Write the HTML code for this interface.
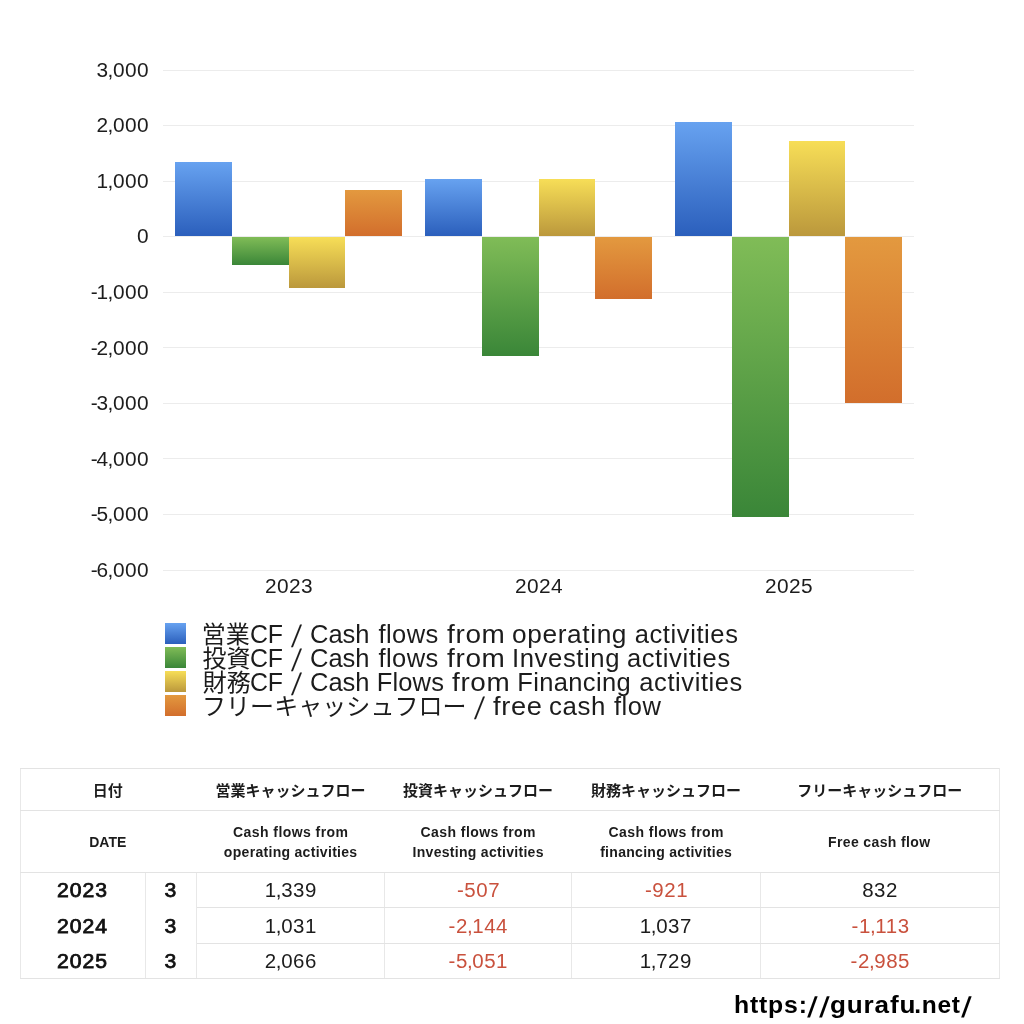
<!DOCTYPE html>
<html lang="ja">
<head>
<meta charset="utf-8">
<title>Cash flow</title>
<style>
html,body{margin:0;padding:0;background:#fff;}
html{width:1024px;height:1024px;overflow:hidden;}
body{width:1024px;height:1024px;position:relative;overflow:hidden;font-family:"Liberation Sans","Noto Sans CJK JP",sans-serif;color:#1c1c1c;}
.grid,.bar,.yl,.xl,.sw,.lt{position:absolute;}
.grid{left:163px;width:751px;height:1px;background:#ececec;}
.bar.b,.sw.b{background:linear-gradient(#67a2f0,#2b5fbc);}
.bar.g,.sw.g{background:linear-gradient(#80bc57,#3a8638);}
.bar.y,.sw.y{background:linear-gradient(#f7de57,#bb983c);}
.bar.o,.sw.o{background:linear-gradient(#e3993f,#d26e2c);}
.yl{left:28px;width:121.05px;text-align:right;font-size:19.5px;line-height:26px;letter-spacing:0.4px;white-space:nowrap;transform:scaleX(1.07);transform-origin:100% 50%;}
.xl{top:572.6px;width:100px;text-align:center;font-size:19.5px;line-height:26px;letter-spacing:0.4px;transform:scaleX(1.07);}
.yl .c,tr.d td .c{margin:0 -0.85px;}
.yl .m{margin-right:-1.5px;}
.sw{left:165px;width:21px;height:21px;}
.lt{left:0;width:1024px;height:30px;font-size:25.5px;line-height:30px;white-space:pre;}
.lt span{display:inline-block;width:0;vertical-align:baseline;line-height:30px;white-space:pre;transform-origin:0 0;}
.lt .j{font-size:24px;font-weight:400;}
.lt .e{font-size:25.5px;}
.lt .s{transform:translateY(3.7px) scaleY(1.22) skewX(-12deg);transform-origin:3.6px 23.8px;}
table{position:absolute;left:20px;top:768px;width:979px;border-collapse:collapse;table-layout:fixed;}
td,th{padding:0;text-align:center;vertical-align:middle;border:1px solid #e3e3e3;border-left-color:#e8e8e8;border-right-color:#e8e8e8;}
tr.h1 th{height:41px;font-size:15px;font-weight:bold;border-left:none;border-right:none;}
tr.h2 th{height:61px;font-size:14px;font-weight:bold;line-height:20px;border-left:none;border-right:none;}
tr.h2 th .l1{letter-spacing:0.44px;margin-left:0.44px;}
tr.h2 th .l2{letter-spacing:0.3px;margin-left:0.3px;}
tr.h1 th:first-child,tr.h2 th:first-child{border-left:1px solid #e8e8e8;}
tr.h1 th:last-child,tr.h2 th:last-child{border-right:1px solid #e8e8e8;}
tr.d td{height:34.4px;font-size:19.5px;}
tr.d td>span{display:inline-block;transform:scaleX(1.05);letter-spacing:0.5px;position:relative;top:0.6px;left:0.25px;}
tr.d td.yr,tr.d td.mo{font-size:19.6px;-webkit-text-stroke:0.75px #111;color:#111;border-top:none;border-bottom:none;}
tr.d td.yr>span,tr.d td.mo>span{transform:scaleX(1.08);letter-spacing:0.9px;top:0;left:0.1px;}
tr.d+tr.d td.yr>span,tr.d+tr.d td.mo>span{top:1px;}
tr.d:last-child td{border-bottom:1px solid #e3e3e3;}
td.n{color:#c9513d;}
.url{position:absolute;left:0;top:990px;width:1024px;height:30px;overflow:hidden;font-size:24.5px;line-height:30px;font-weight:bold;color:#000;white-space:pre;}
.url span{display:inline-block;width:0;line-height:30px;white-space:pre;transform-origin:0 0;}
.url .s{transform:translateY(3.7px) scaleY(1.17) skewX(-13deg);transform-origin:3.45px 23.5px;}
</style>
</head>
<body>
<div class="grid" style="top:70px"></div><div class="grid" style="top:125px"></div><div class="grid" style="top:181px"></div><div class="grid" style="top:236px"></div><div class="grid" style="top:292px"></div><div class="grid" style="top:347px"></div><div class="grid" style="top:403px"></div><div class="grid" style="top:458px"></div><div class="grid" style="top:514px"></div><div class="grid" style="top:570px"></div>
<div class="bar b" style="left:175px;top:162px;width:57px;height:74px"></div><div class="bar g" style="left:232px;top:237px;width:57px;height:28px"></div><div class="bar y" style="left:289px;top:237px;width:56px;height:51px"></div><div class="bar o" style="left:345px;top:190px;width:57px;height:46px"></div><div class="bar b" style="left:425px;top:179px;width:57px;height:57px"></div><div class="bar g" style="left:482px;top:237px;width:57px;height:119px"></div><div class="bar y" style="left:539px;top:179px;width:56px;height:57px"></div><div class="bar o" style="left:595px;top:237px;width:57px;height:62px"></div><div class="bar b" style="left:675px;top:122px;width:57px;height:114px"></div><div class="bar g" style="left:732px;top:237px;width:57px;height:280px"></div><div class="bar y" style="left:789px;top:141px;width:56px;height:95px"></div><div class="bar o" style="left:845px;top:237px;width:57px;height:166px"></div>
<div class="yl" style="top:57px">3<span class="c">,</span>000</div><div class="yl" style="top:112px">2<span class="c">,</span>000</div><div class="yl" style="top:168px">1<span class="c">,</span>000</div><div class="yl" style="top:223px">0</div><div class="yl" style="top:279px"><span class="m">-</span>1<span class="c">,</span>000</div><div class="yl" style="top:335px"><span class="m">-</span>2<span class="c">,</span>000</div><div class="yl" style="top:390px"><span class="m">-</span>3<span class="c">,</span>000</div><div class="yl" style="top:446px"><span class="m">-</span>4<span class="c">,</span>000</div><div class="yl" style="top:501px"><span class="m">-</span>5<span class="c">,</span>000</div><div class="yl" style="top:557px"><span class="m">-</span>6<span class="c">,</span>000</div>
<div class="xl" style="left:238.60px">2023</div><div class="xl" style="left:488.60px">2024</div><div class="xl" style="left:738.60px">2025</div>
<div class="sw b" style="top:623px"></div><div class="lt" style="top:619px"><span class="j" style="margin-left:201.75px">営業</span><span class="e" style="margin-left:48.28px;letter-spacing:-0.30px;transform:scaleX(0.976)">CF </span><span class="e s" style="margin-left:40.97px">/ </span><span class="e" style="margin-left:19.00px">Cash </span><span class="e" style="margin-left:68.50px;letter-spacing:0.44px">flows </span><span class="e" style="margin-left:68.33px;letter-spacing:0.60px;transform:scaleX(1.096)">from </span><span class="e" style="margin-left:65.54px;letter-spacing:0.60px;transform:scaleX(1.030)">operating </span><span class="e" style="margin-left:122.38px;letter-spacing:0.60px">activities</span></div><div class="sw g" style="top:647px"></div><div class="lt" style="top:643px"><span class="j" style="margin-left:202.40px">投資</span><span class="e" style="margin-left:47.63px;letter-spacing:-0.30px;transform:scaleX(0.976)">CF </span><span class="e s" style="margin-left:40.97px">/ </span><span class="e" style="margin-left:19.00px">Cash </span><span class="e" style="margin-left:68.50px;letter-spacing:0.44px">flows </span><span class="e" style="margin-left:68.33px;letter-spacing:0.60px;transform:scaleX(1.096)">from </span><span class="e" style="margin-left:64.91px;letter-spacing:0.60px;transform:scaleX(1.006)">Investing </span><span class="e" style="margin-left:115.26px;letter-spacing:0.60px">activities</span></div><div class="sw y" style="top:671px"></div><div class="lt" style="top:667px"><span class="j" style="margin-left:202.80px">財務</span><span class="e" style="margin-left:47.23px;letter-spacing:-0.30px;transform:scaleX(0.976)">CF </span><span class="e s" style="margin-left:40.97px">/ </span><span class="e" style="margin-left:19.00px">Cash </span><span class="e" style="margin-left:66.75px;letter-spacing:0.15px">Flows </span><span class="e" style="margin-left:75.48px;letter-spacing:0.60px;transform:scaleX(1.093)">from </span><span class="e" style="margin-left:65.02px;letter-spacing:0.36px">Financing </span><span class="e" style="margin-left:122.15px;letter-spacing:0.58px">activities</span></div><div class="sw o" style="top:695px"></div><div class="lt" style="top:691px"><span class="j" style="margin-left:202.00px;letter-spacing:0.06px">フリーキャッシュフロー </span><span class="e s" style="margin-left:271.50px">/ </span><span class="e" style="margin-left:19.83px;letter-spacing:0.60px;transform:scaleX(1.067)">free </span><span class="e" style="margin-left:56.16px;letter-spacing:0.60px;transform:scaleX(1.014)">cash </span><span class="e" style="margin-left:64.51px;letter-spacing:0.50px">flow</span></div>
<table>
<colgroup><col style="width:125px"><col style="width:51px"><col style="width:188px"><col style="width:187px"><col style="width:189px"><col style="width:239px"></colgroup>
<tr class="h1"><th colspan="2"><span style="position:relative;left:-1px">日付</span></th><th>営業キャッシュフロー</th><th>投資キャッシュフロー</th><th>財務キャッシュフロー</th><th>フリーキャッシュフロー</th></tr>
<tr class="h2"><th colspan="2"><span style="position:relative;left:-1px">DATE</span></th><th><span class="l1">Cash flows from</span><br><span class="l2">operating activities</span></th><th><span class="l1">Cash flows from</span><br><span class="l2">Investing activities</span></th><th><span class="l1">Cash flows from</span><br><span class="l2">financing activities</span></th><th><span class="l1" style="letter-spacing:0.38px;margin-left:-1px">Free cash flow</span></th></tr>
<tr class="d"><td class="yr"><span>2023</span></td><td class="mo"><span>3</span></td><td><span>1<span class="c">,</span>339</span></td><td class="n"><span>-507</span></td><td class="n"><span>-921</span></td><td><span>832</span></td></tr>
<tr class="d"><td class="yr"><span>2024</span></td><td class="mo"><span>3</span></td><td><span>1<span class="c">,</span>031</span></td><td class="n"><span>-2<span class="c">,</span>144</span></td><td><span>1<span class="c">,</span>037</span></td><td class="n"><span>-1<span class="c">,</span>113</span></td></tr>
<tr class="d"><td class="yr"><span>2025</span></td><td class="mo"><span>3</span></td><td><span>2<span class="c">,</span>066</span></td><td class="n"><span>-5<span class="c">,</span>051</span></td><td><span>1<span class="c">,</span>729</span></td><td class="n"><span>-2<span class="c">,</span>985</span></td></tr>
</table>
<div class="url"><span style="margin-left:734.33px;letter-spacing:0.80px;transform:scaleX(1.012)">https:</span><span class="s" style="margin-left:73.02px">/</span><span class="s" style="margin-left:11.90px">/</span><span style="margin-left:10.79px;letter-spacing:0.80px;transform:scaleX(1.065)">gurafu</span><span style="margin-left:84.21px;letter-spacing:0.75px">.net</span><span class="s" style="margin-left:47.10px">/</span></div>
</body>
</html>
